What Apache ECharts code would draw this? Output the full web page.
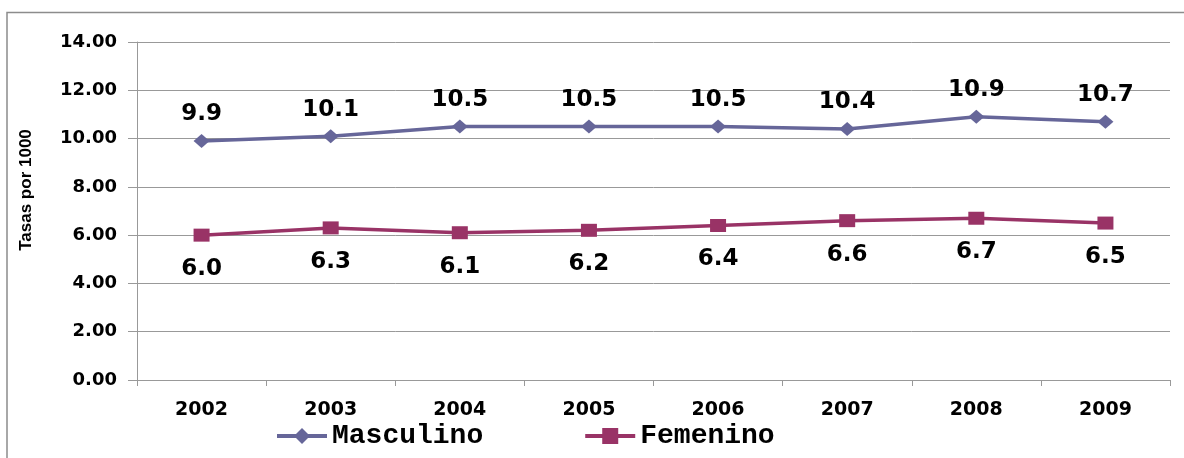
<!DOCTYPE html>
<html>
<head>
<meta charset="utf-8">
<title>Tasas por 1000</title>
<script src="https://cdn.jsdelivr.net/npm/echarts@6/dist/echarts.min.js"></script>
<style>
  html, body { margin: 0; padding: 0; background: #ffffff; }
  #chart { width: 1184px; height: 458px; }
</style>
</head>
<body>
<div id="chart"></div>
<script>
// Years on the category axis
const years = ['2002', '2003', '2004', '2005', '2006', '2007', '2008', '2009'];
// Rates per 1000 by sex
const masculino = [9.9, 10.1, 10.5, 10.5, 10.5, 10.4, 10.9, 10.7];
const femenino = [6.0, 6.3, 6.1, 6.2, 6.4, 6.6, 6.7, 6.5];
const seriesNames = ['Masculino', 'Femenino'];
const yAxisTitle = 'Tasas por 1000';

const chart = echarts.init(document.getElementById('chart'), null, { renderer: 'canvas' });

const labelFont = {
  fontFamily: 'DejaVu Sans',
  fontWeight: 'bold',
  fontSize: 23,
  color: '#000000'
};

chart.setOption({
  animation: false,
  backgroundColor: '#ffffff',
  grid: { left: 137, right: 14, top: 42, bottom: 78, containLabel: false },
  graphic: [
    {
      type: 'polyline',
      shape: { points: [[7, 458], [7, 12.5], [1184, 12.5]] },
      style: { stroke: '#8c8c8c', lineWidth: 1.5, fill: null },
      silent: true
    },
    {
      type: 'text',
      x: 26,
      y: 190,
      rotation: Math.PI / 2,
      style: {
        text: yAxisTitle,
        fontFamily: 'Liberation Sans',
        fontWeight: 'bold',
        fontSize: 17,
        fill: '#000000',
        align: 'center',
        verticalAlign: 'middle'
      }
    }
  ],
  legend: {
    left: 270,
    top: 417,
    itemWidth: 50,
    itemHeight: 20,
    itemGap: 100,
    lineStyle: { width: 4 },
    textStyle: {
      fontFamily: 'Liberation Mono',
      fontWeight: 'bold',
      fontSize: 28,
      color: '#000000'
    },
    data: seriesNames
  },
  xAxis: {
    type: 'category',
    data: years,
    boundaryGap: true,
    axisLine: { lineStyle: { color: '#999999', width: 1 } },
    axisTick: { show: true, length: 6, lineStyle: { color: '#999999' } },
    axisLabel: {
      margin: 21,
      fontFamily: 'DejaVu Sans',
      fontWeight: 'bold',
      fontSize: 19,
      color: '#000000'
    },
    splitLine: { show: false }
  },
  yAxis: {
    type: 'value',
    min: 0,
    max: 14,
    interval: 2,
    axisLine: { show: true, lineStyle: { color: '#999999', width: 1 } },
    axisTick: { show: true, length: 9, lineStyle: { color: '#999999' } },
    axisLabel: {
      margin: 20,
      fontFamily: 'DejaVu Sans',
      fontWeight: 'bold',
      fontSize: 18,
      color: '#000000',
      formatter: v => v.toFixed(2)
    },
    splitLine: { show: true, lineStyle: { color: '#999999', width: 1 } }
  },
  series: [
    {
      name: seriesNames[0],
      type: 'line',
      data: masculino,
      symbol: 'diamond',
      symbolSize: [16, 14],
      color: '#666699',
      lineStyle: { width: 3.5, color: '#666699' },
      itemStyle: { color: '#666699' },
      label: {
        show: true,
        position: 'top',
        distance: 8,
        formatter: p => p.value.toFixed(1),
        ...labelFont
      },
      z: 3
    },
    {
      name: seriesNames[1],
      type: 'line',
      data: femenino,
      symbol: 'rect',
      symbolSize: [16, 13],
      color: '#993366',
      lineStyle: { width: 3.5, color: '#993366' },
      itemStyle: { color: '#993366' },
      label: {
        show: true,
        position: 'bottom',
        distance: 16,
        formatter: p => p.value.toFixed(1),
        ...labelFont
      },
      z: 3
    }
  ]
});
</script>
</body>
</html>
